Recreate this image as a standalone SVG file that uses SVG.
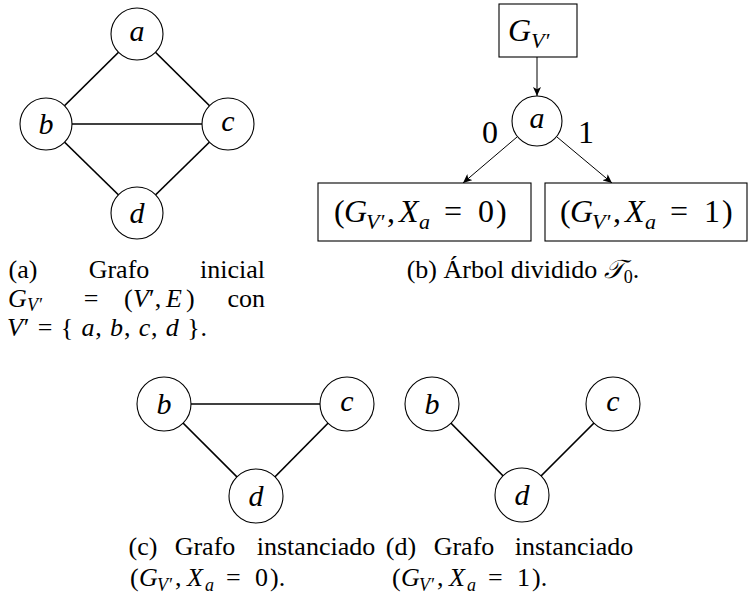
<svg xmlns="http://www.w3.org/2000/svg" width="748" height="598" viewBox="0 0 748 598" font-family="'Liberation Serif', 'Times New Roman', serif">
<defs>
<style>
.n{fill:#fff;stroke:#000;stroke-width:1.1}
.e{stroke:#000;stroke-width:1.7;fill:none}
.ar{stroke:#000;stroke-width:1;fill:none;marker-end:url(#ah)}
.bx{fill:#fff;stroke:#000;stroke-width:1.1}
text{font-family:"Liberation Serif","Times New Roman",serif;fill:#000}
.lbl{font-size:30px;font-style:italic;text-anchor:middle}
.cap{font-size:26px}
.bt{font-size:32px}
.i{font-style:italic}
.s{font-size:18px;font-style:italic}
.bs{font-size:22px;font-style:italic}
.m{text-anchor:middle}
.en{text-anchor:end}
</style>
<marker id="ah" markerWidth="10" markerHeight="8" refX="9" refY="4" orient="auto" markerUnits="userSpaceOnUse"><path d="M0,0 L9,4 L0,8 L2.2,4 z" fill="#000"/></marker>
</defs>
<rect width="748" height="598" fill="#fff"/>

<g id="connectors">
<line class="e" x1="137" y1="34" x2="46" y2="124"/>
<line class="e" x1="137" y1="34" x2="228" y2="124"/>
<line class="e" x1="46" y1="124" x2="228" y2="124"/>
<line class="e" x1="46" y1="124" x2="137" y2="213"/>
<line class="e" x1="228" y1="124" x2="137" y2="213"/>
<line class="ar" x1="537" y1="57" x2="537" y2="96"/>
<line class="ar" x1="517" y1="137" x2="463" y2="183"/>
<line class="ar" x1="557" y1="137" x2="612" y2="183"/>
<line class="e" x1="164" y1="404" x2="347" y2="404"/>
<line class="e" x1="164" y1="404" x2="256" y2="496"/>
<line class="e" x1="347" y1="404" x2="256" y2="496"/>
<line class="e" x1="432" y1="404" x2="522" y2="495"/>
<line class="e" x1="613" y1="404" x2="522" y2="495"/>
</g>

<g id="a_a"><circle class="n" cx="137" cy="34" r="26"/><text class="lbl" x="137" y="41">a</text></g>
<g id="a_b"><circle class="n" cx="46" cy="124" r="26"/><text class="lbl" x="46" y="134">b</text></g>
<g id="a_c"><circle class="n" cx="228" cy="124" r="26"/><text class="lbl" x="228" y="131">c</text></g>
<g id="a_d"><circle class="n" cx="137" cy="213" r="26"/><text class="lbl" x="137" y="223">d</text></g>

<g id="b_root"><rect class="bx" x="499" y="4" width="78" height="53"/>
<text class="bt"><tspan class="i" x="508" y="41">G</tspan><tspan class="bs" x="531" y="48">V′</tspan></text></g>
<g id="b_a"><circle class="n" cx="537" cy="121" r="25"/><text class="lbl" x="537" y="128">a</text></g>
<text class="bt m" x="490" y="143" font-size="29">0</text>
<text class="bt m" x="586" y="143" font-size="29">1</text>
<g id="b_x0"><rect class="bx" x="318" y="183" width="213" height="58"/>
<text class="bt"><tspan x="334" y="222">(</tspan><tspan class="i" x="344">G</tspan><tspan class="bs" x="366" y="229">V′</tspan><tspan x="387" y="222">,</tspan><tspan class="i" x="399">X</tspan><tspan class="bs" x="419" y="229">a</tspan><tspan x="444" y="222">=</tspan><tspan x="478">0</tspan><tspan x="496">)</tspan></text></g>
<g id="b_x1"><rect class="bx" x="545" y="183" width="202" height="58"/>
<text class="bt"><tspan x="560" y="222">(</tspan><tspan class="i" x="570">G</tspan><tspan class="bs" x="592" y="229">V′</tspan><tspan x="613" y="222">,</tspan><tspan class="i" x="625">X</tspan><tspan class="bs" x="645" y="229">a</tspan><tspan x="670" y="222">=</tspan><tspan x="704">1</tspan><tspan x="722">)</tspan></text></g>

<g id="c_b"><circle class="n" cx="164" cy="404" r="27"/><text class="lbl" x="164" y="414">b</text></g>
<g id="c_c"><circle class="n" cx="347" cy="404" r="27"/><text class="lbl" x="347" y="411">c</text></g>
<g id="c_d"><circle class="n" cx="256" cy="496" r="27"/><text class="lbl" x="256" y="506">d</text></g>

<g id="d_b"><circle class="n" cx="432" cy="404" r="27"/><text class="lbl" x="432" y="414">b</text></g>
<g id="d_c"><circle class="n" cx="613" cy="404" r="27"/><text class="lbl" x="613" y="411">c</text></g>
<g id="d_d"><circle class="n" cx="522" cy="495" r="27"/><text class="lbl" x="522" y="505">d</text></g>

<g id="captions">
<text class="cap" y="278"><tspan class="m" x="23">(a)</tspan><tspan class="m" x="119">Grafo</tspan><tspan class="en" x="265">inicial</tspan></text>
<text class="cap" y="307"><tspan class="i" x="8">G</tspan><tspan class="s" x="27" y="311">V′</tspan><tspan class="m" x="91" y="307">=</tspan><tspan x="124">(</tspan><tspan class="i" x="133">V</tspan><tspan x="149">′,</tspan><tspan class="i" x="166">E</tspan><tspan x="186">)</tspan><tspan class="en" x="265">con</tspan></text>
<text class="cap" x="7" y="336" textLength="200" lengthAdjust="spacing"><tspan class="i">V</tspan><tspan>′ = { </tspan><tspan class="i">a</tspan><tspan>, </tspan><tspan class="i">b</tspan><tspan>, </tspan><tspan class="i">c</tspan><tspan>, </tspan><tspan class="i">d</tspan><tspan> }.</tspan></text>
<text class="cap m" x="523" y="278"><tspan>(b) Árbol dividido </tspan><tspan class="i">𝒯</tspan><tspan font-size="18" dy="5">0</tspan><tspan dy="-5">.</tspan></text>
<text class="cap" y="555"><tspan class="m" x="143">(c)</tspan><tspan class="m" x="205">Grafo</tspan><tspan class="m" x="316">instanciado</tspan></text>
<text class="cap" y="586"><tspan x="130">(</tspan><tspan class="i" x="139">G</tspan><tspan class="s" x="157" y="591">V′</tspan><tspan x="175" y="586">,</tspan><tspan class="i" x="187">X</tspan><tspan class="s" x="205" y="591">a</tspan><tspan x="226" y="586">=</tspan><tspan x="255">0</tspan><tspan x="270">).</tspan></text>
<text class="cap" y="555"><tspan class="m" x="401">(d)</tspan><tspan class="m" x="464">Grafo</tspan><tspan class="m" x="574">instanciado</tspan></text>
<text class="cap" y="586"><tspan x="392">(</tspan><tspan class="i" x="401">G</tspan><tspan class="s" x="419" y="591">V′</tspan><tspan x="437" y="586">,</tspan><tspan class="i" x="449">X</tspan><tspan class="s" x="467" y="591">a</tspan><tspan x="488" y="586">=</tspan><tspan x="517">1</tspan><tspan x="532">).</tspan></text>
</g>
</svg>
